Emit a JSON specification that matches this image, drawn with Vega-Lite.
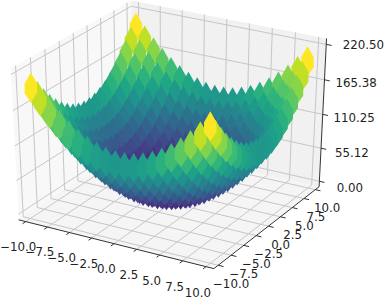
{"$schema":"https://vega.github.io/schema/vega-lite/v6.json","width":384,"height":300,"padding":0,"autosize":{"type":"fit","contains":"padding"},"background":"white","view":{"stroke":null},
"datasets":{
"surface":[
{"x":-9.5,"y":9.5,"z":220.5},{"x":-8.5,"y":9.5,"z":202.5},{"x":-7.5,"y":9.5,"z":186.5},{"x":-6.5,"y":9.5,"z":172.5},{"x":-5.5,"y":9.5,"z":160.5},{"x":-4.5,"y":9.5,"z":150.5},{"x":-3.5,"y":9.5,"z":142.5},{"x":-2.5,"y":9.5,"z":136.5},{"x":-1.5,"y":9.5,"z":132.5},{"x":-0.5,"y":9.5,"z":130.5},{"x":0.5,"y":9.5,"z":130.5},{"x":1.5,"y":9.5,"z":132.5},{"x":2.5,"y":9.5,"z":136.5},{"x":3.5,"y":9.5,"z":142.5},{"x":4.5,"y":9.5,"z":150.5},{"x":5.5,"y":9.5,"z":160.5},{"x":6.5,"y":9.5,"z":172.5},{"x":7.5,"y":9.5,"z":186.5},{"x":8.5,"y":9.5,"z":202.5},{"x":9.5,"y":9.5,"z":220.5},
{"x":-9.5,"y":8.5,"z":202.5},{"x":-8.5,"y":8.5,"z":184.5},{"x":-7.5,"y":8.5,"z":168.5},{"x":-6.5,"y":8.5,"z":154.5},{"x":-5.5,"y":8.5,"z":142.5},{"x":-4.5,"y":8.5,"z":132.5},{"x":-3.5,"y":8.5,"z":124.5},{"x":-2.5,"y":8.5,"z":118.5},{"x":-1.5,"y":8.5,"z":114.5},{"x":-0.5,"y":8.5,"z":112.5},{"x":0.5,"y":8.5,"z":112.5},{"x":1.5,"y":8.5,"z":114.5},{"x":2.5,"y":8.5,"z":118.5},{"x":3.5,"y":8.5,"z":124.5},{"x":4.5,"y":8.5,"z":132.5},{"x":5.5,"y":8.5,"z":142.5},{"x":6.5,"y":8.5,"z":154.5},{"x":7.5,"y":8.5,"z":168.5},{"x":8.5,"y":8.5,"z":184.5},{"x":9.5,"y":8.5,"z":202.5},
{"x":-9.5,"y":7.5,"z":186.5},{"x":-8.5,"y":7.5,"z":168.5},{"x":-7.5,"y":7.5,"z":152.5},{"x":-6.5,"y":7.5,"z":138.5},{"x":-5.5,"y":7.5,"z":126.5},{"x":-4.5,"y":7.5,"z":116.5},{"x":-3.5,"y":7.5,"z":108.5},{"x":-2.5,"y":7.5,"z":102.5},{"x":-1.5,"y":7.5,"z":98.5},{"x":-0.5,"y":7.5,"z":96.5},{"x":0.5,"y":7.5,"z":96.5},{"x":1.5,"y":7.5,"z":98.5},{"x":2.5,"y":7.5,"z":102.5},{"x":3.5,"y":7.5,"z":108.5},{"x":4.5,"y":7.5,"z":116.5},{"x":5.5,"y":7.5,"z":126.5},{"x":6.5,"y":7.5,"z":138.5},{"x":7.5,"y":7.5,"z":152.5},{"x":8.5,"y":7.5,"z":168.5},{"x":9.5,"y":7.5,"z":186.5},
{"x":-9.5,"y":6.5,"z":172.5},{"x":-8.5,"y":6.5,"z":154.5},{"x":-7.5,"y":6.5,"z":138.5},{"x":-6.5,"y":6.5,"z":124.5},{"x":-5.5,"y":6.5,"z":112.5},{"x":-4.5,"y":6.5,"z":102.5},{"x":-3.5,"y":6.5,"z":94.5},{"x":-2.5,"y":6.5,"z":88.5},{"x":-1.5,"y":6.5,"z":84.5},{"x":-0.5,"y":6.5,"z":82.5},{"x":0.5,"y":6.5,"z":82.5},{"x":1.5,"y":6.5,"z":84.5},{"x":2.5,"y":6.5,"z":88.5},{"x":3.5,"y":6.5,"z":94.5},{"x":4.5,"y":6.5,"z":102.5},{"x":5.5,"y":6.5,"z":112.5},{"x":6.5,"y":6.5,"z":124.5},{"x":7.5,"y":6.5,"z":138.5},{"x":8.5,"y":6.5,"z":154.5},{"x":9.5,"y":6.5,"z":172.5},
{"x":-9.5,"y":5.5,"z":160.5},{"x":-8.5,"y":5.5,"z":142.5},{"x":-7.5,"y":5.5,"z":126.5},{"x":-6.5,"y":5.5,"z":112.5},{"x":-5.5,"y":5.5,"z":100.5},{"x":-4.5,"y":5.5,"z":90.5},{"x":-3.5,"y":5.5,"z":82.5},{"x":-2.5,"y":5.5,"z":76.5},{"x":-1.5,"y":5.5,"z":72.5},{"x":-0.5,"y":5.5,"z":70.5},{"x":0.5,"y":5.5,"z":70.5},{"x":1.5,"y":5.5,"z":72.5},{"x":2.5,"y":5.5,"z":76.5},{"x":3.5,"y":5.5,"z":82.5},{"x":4.5,"y":5.5,"z":90.5},{"x":5.5,"y":5.5,"z":100.5},{"x":6.5,"y":5.5,"z":112.5},{"x":7.5,"y":5.5,"z":126.5},{"x":8.5,"y":5.5,"z":142.5},{"x":9.5,"y":5.5,"z":160.5},
{"x":-9.5,"y":4.5,"z":150.5},{"x":-8.5,"y":4.5,"z":132.5},{"x":-7.5,"y":4.5,"z":116.5},{"x":-6.5,"y":4.5,"z":102.5},{"x":-5.5,"y":4.5,"z":90.5},{"x":-4.5,"y":4.5,"z":80.5},{"x":-3.5,"y":4.5,"z":72.5},{"x":-2.5,"y":4.5,"z":66.5},{"x":-1.5,"y":4.5,"z":62.5},{"x":-0.5,"y":4.5,"z":60.5},{"x":0.5,"y":4.5,"z":60.5},{"x":1.5,"y":4.5,"z":62.5},{"x":2.5,"y":4.5,"z":66.5},{"x":3.5,"y":4.5,"z":72.5},{"x":4.5,"y":4.5,"z":80.5},{"x":5.5,"y":4.5,"z":90.5},{"x":6.5,"y":4.5,"z":102.5},{"x":7.5,"y":4.5,"z":116.5},{"x":8.5,"y":4.5,"z":132.5},{"x":9.5,"y":4.5,"z":150.5},
{"x":-9.5,"y":3.5,"z":142.5},{"x":-8.5,"y":3.5,"z":124.5},{"x":-7.5,"y":3.5,"z":108.5},{"x":-6.5,"y":3.5,"z":94.5},{"x":-5.5,"y":3.5,"z":82.5},{"x":-4.5,"y":3.5,"z":72.5},{"x":-3.5,"y":3.5,"z":64.5},{"x":-2.5,"y":3.5,"z":58.5},{"x":-1.5,"y":3.5,"z":54.5},{"x":-0.5,"y":3.5,"z":52.5},{"x":0.5,"y":3.5,"z":52.5},{"x":1.5,"y":3.5,"z":54.5},{"x":2.5,"y":3.5,"z":58.5},{"x":3.5,"y":3.5,"z":64.5},{"x":4.5,"y":3.5,"z":72.5},{"x":5.5,"y":3.5,"z":82.5},{"x":6.5,"y":3.5,"z":94.5},{"x":7.5,"y":3.5,"z":108.5},{"x":8.5,"y":3.5,"z":124.5},{"x":9.5,"y":3.5,"z":142.5},
{"x":-9.5,"y":2.5,"z":136.5},{"x":-8.5,"y":2.5,"z":118.5},{"x":-7.5,"y":2.5,"z":102.5},{"x":-6.5,"y":2.5,"z":88.5},{"x":-5.5,"y":2.5,"z":76.5},{"x":-4.5,"y":2.5,"z":66.5},{"x":-3.5,"y":2.5,"z":58.5},{"x":-2.5,"y":2.5,"z":52.5},{"x":-1.5,"y":2.5,"z":48.5},{"x":-0.5,"y":2.5,"z":46.5},{"x":0.5,"y":2.5,"z":46.5},{"x":1.5,"y":2.5,"z":48.5},{"x":2.5,"y":2.5,"z":52.5},{"x":3.5,"y":2.5,"z":58.5},{"x":4.5,"y":2.5,"z":66.5},{"x":5.5,"y":2.5,"z":76.5},{"x":6.5,"y":2.5,"z":88.5},{"x":7.5,"y":2.5,"z":102.5},{"x":8.5,"y":2.5,"z":118.5},{"x":9.5,"y":2.5,"z":136.5},
{"x":-9.5,"y":1.5,"z":132.5},{"x":-8.5,"y":1.5,"z":114.5},{"x":-7.5,"y":1.5,"z":98.5},{"x":-6.5,"y":1.5,"z":84.5},{"x":-5.5,"y":1.5,"z":72.5},{"x":-4.5,"y":1.5,"z":62.5},{"x":-3.5,"y":1.5,"z":54.5},{"x":-2.5,"y":1.5,"z":48.5},{"x":-1.5,"y":1.5,"z":44.5},{"x":-0.5,"y":1.5,"z":42.5},{"x":0.5,"y":1.5,"z":42.5},{"x":1.5,"y":1.5,"z":44.5},{"x":2.5,"y":1.5,"z":48.5},{"x":3.5,"y":1.5,"z":54.5},{"x":4.5,"y":1.5,"z":62.5},{"x":5.5,"y":1.5,"z":72.5},{"x":6.5,"y":1.5,"z":84.5},{"x":7.5,"y":1.5,"z":98.5},{"x":8.5,"y":1.5,"z":114.5},{"x":9.5,"y":1.5,"z":132.5},
{"x":-9.5,"y":0.5,"z":130.5},{"x":-8.5,"y":0.5,"z":112.5},{"x":-7.5,"y":0.5,"z":96.5},{"x":-6.5,"y":0.5,"z":82.5},{"x":-5.5,"y":0.5,"z":70.5},{"x":-4.5,"y":0.5,"z":60.5},{"x":-3.5,"y":0.5,"z":52.5},{"x":-2.5,"y":0.5,"z":46.5},{"x":-1.5,"y":0.5,"z":42.5},{"x":-0.5,"y":0.5,"z":40.5},{"x":0.5,"y":0.5,"z":40.5},{"x":1.5,"y":0.5,"z":42.5},{"x":2.5,"y":0.5,"z":46.5},{"x":3.5,"y":0.5,"z":52.5},{"x":4.5,"y":0.5,"z":60.5},{"x":5.5,"y":0.5,"z":70.5},{"x":6.5,"y":0.5,"z":82.5},{"x":7.5,"y":0.5,"z":96.5},{"x":8.5,"y":0.5,"z":112.5},{"x":9.5,"y":0.5,"z":130.5},
{"x":-9.5,"y":-0.5,"z":130.5},{"x":-8.5,"y":-0.5,"z":112.5},{"x":-7.5,"y":-0.5,"z":96.5},{"x":-6.5,"y":-0.5,"z":82.5},{"x":-5.5,"y":-0.5,"z":70.5},{"x":-4.5,"y":-0.5,"z":60.5},{"x":-3.5,"y":-0.5,"z":52.5},{"x":-2.5,"y":-0.5,"z":46.5},{"x":-1.5,"y":-0.5,"z":42.5},{"x":-0.5,"y":-0.5,"z":40.5},{"x":0.5,"y":-0.5,"z":40.5},{"x":1.5,"y":-0.5,"z":42.5},{"x":2.5,"y":-0.5,"z":46.5},{"x":3.5,"y":-0.5,"z":52.5},{"x":4.5,"y":-0.5,"z":60.5},{"x":5.5,"y":-0.5,"z":70.5},{"x":6.5,"y":-0.5,"z":82.5},{"x":7.5,"y":-0.5,"z":96.5},{"x":8.5,"y":-0.5,"z":112.5},{"x":9.5,"y":-0.5,"z":130.5},
{"x":-9.5,"y":-1.5,"z":132.5},{"x":-8.5,"y":-1.5,"z":114.5},{"x":-7.5,"y":-1.5,"z":98.5},{"x":-6.5,"y":-1.5,"z":84.5},{"x":-5.5,"y":-1.5,"z":72.5},{"x":-4.5,"y":-1.5,"z":62.5},{"x":-3.5,"y":-1.5,"z":54.5},{"x":-2.5,"y":-1.5,"z":48.5},{"x":-1.5,"y":-1.5,"z":44.5},{"x":-0.5,"y":-1.5,"z":42.5},{"x":0.5,"y":-1.5,"z":42.5},{"x":1.5,"y":-1.5,"z":44.5},{"x":2.5,"y":-1.5,"z":48.5},{"x":3.5,"y":-1.5,"z":54.5},{"x":4.5,"y":-1.5,"z":62.5},{"x":5.5,"y":-1.5,"z":72.5},{"x":6.5,"y":-1.5,"z":84.5},{"x":7.5,"y":-1.5,"z":98.5},{"x":8.5,"y":-1.5,"z":114.5},{"x":9.5,"y":-1.5,"z":132.5},
{"x":-9.5,"y":-2.5,"z":136.5},{"x":-8.5,"y":-2.5,"z":118.5},{"x":-7.5,"y":-2.5,"z":102.5},{"x":-6.5,"y":-2.5,"z":88.5},{"x":-5.5,"y":-2.5,"z":76.5},{"x":-4.5,"y":-2.5,"z":66.5},{"x":-3.5,"y":-2.5,"z":58.5},{"x":-2.5,"y":-2.5,"z":52.5},{"x":-1.5,"y":-2.5,"z":48.5},{"x":-0.5,"y":-2.5,"z":46.5},{"x":0.5,"y":-2.5,"z":46.5},{"x":1.5,"y":-2.5,"z":48.5},{"x":2.5,"y":-2.5,"z":52.5},{"x":3.5,"y":-2.5,"z":58.5},{"x":4.5,"y":-2.5,"z":66.5},{"x":5.5,"y":-2.5,"z":76.5},{"x":6.5,"y":-2.5,"z":88.5},{"x":7.5,"y":-2.5,"z":102.5},{"x":8.5,"y":-2.5,"z":118.5},{"x":9.5,"y":-2.5,"z":136.5},
{"x":-9.5,"y":-3.5,"z":142.5},{"x":-8.5,"y":-3.5,"z":124.5},{"x":-7.5,"y":-3.5,"z":108.5},{"x":-6.5,"y":-3.5,"z":94.5},{"x":-5.5,"y":-3.5,"z":82.5},{"x":-4.5,"y":-3.5,"z":72.5},{"x":-3.5,"y":-3.5,"z":64.5},{"x":-2.5,"y":-3.5,"z":58.5},{"x":-1.5,"y":-3.5,"z":54.5},{"x":-0.5,"y":-3.5,"z":52.5},{"x":0.5,"y":-3.5,"z":52.5},{"x":1.5,"y":-3.5,"z":54.5},{"x":2.5,"y":-3.5,"z":58.5},{"x":3.5,"y":-3.5,"z":64.5},{"x":4.5,"y":-3.5,"z":72.5},{"x":5.5,"y":-3.5,"z":82.5},{"x":6.5,"y":-3.5,"z":94.5},{"x":7.5,"y":-3.5,"z":108.5},{"x":8.5,"y":-3.5,"z":124.5},{"x":9.5,"y":-3.5,"z":142.5},
{"x":-9.5,"y":-4.5,"z":150.5},{"x":-8.5,"y":-4.5,"z":132.5},{"x":-7.5,"y":-4.5,"z":116.5},{"x":-6.5,"y":-4.5,"z":102.5},{"x":-5.5,"y":-4.5,"z":90.5},{"x":-4.5,"y":-4.5,"z":80.5},{"x":-3.5,"y":-4.5,"z":72.5},{"x":-2.5,"y":-4.5,"z":66.5},{"x":-1.5,"y":-4.5,"z":62.5},{"x":-0.5,"y":-4.5,"z":60.5},{"x":0.5,"y":-4.5,"z":60.5},{"x":1.5,"y":-4.5,"z":62.5},{"x":2.5,"y":-4.5,"z":66.5},{"x":3.5,"y":-4.5,"z":72.5},{"x":4.5,"y":-4.5,"z":80.5},{"x":5.5,"y":-4.5,"z":90.5},{"x":6.5,"y":-4.5,"z":102.5},{"x":7.5,"y":-4.5,"z":116.5},{"x":8.5,"y":-4.5,"z":132.5},{"x":9.5,"y":-4.5,"z":150.5},
{"x":-9.5,"y":-5.5,"z":160.5},{"x":-8.5,"y":-5.5,"z":142.5},{"x":-7.5,"y":-5.5,"z":126.5},{"x":-6.5,"y":-5.5,"z":112.5},{"x":-5.5,"y":-5.5,"z":100.5},{"x":-4.5,"y":-5.5,"z":90.5},{"x":-3.5,"y":-5.5,"z":82.5},{"x":-2.5,"y":-5.5,"z":76.5},{"x":-1.5,"y":-5.5,"z":72.5},{"x":-0.5,"y":-5.5,"z":70.5},{"x":0.5,"y":-5.5,"z":70.5},{"x":1.5,"y":-5.5,"z":72.5},{"x":2.5,"y":-5.5,"z":76.5},{"x":3.5,"y":-5.5,"z":82.5},{"x":4.5,"y":-5.5,"z":90.5},{"x":5.5,"y":-5.5,"z":100.5},{"x":6.5,"y":-5.5,"z":112.5},{"x":7.5,"y":-5.5,"z":126.5},{"x":8.5,"y":-5.5,"z":142.5},{"x":9.5,"y":-5.5,"z":160.5},
{"x":-9.5,"y":-6.5,"z":172.5},{"x":-8.5,"y":-6.5,"z":154.5},{"x":-7.5,"y":-6.5,"z":138.5},{"x":-6.5,"y":-6.5,"z":124.5},{"x":-5.5,"y":-6.5,"z":112.5},{"x":-4.5,"y":-6.5,"z":102.5},{"x":-3.5,"y":-6.5,"z":94.5},{"x":-2.5,"y":-6.5,"z":88.5},{"x":-1.5,"y":-6.5,"z":84.5},{"x":-0.5,"y":-6.5,"z":82.5},{"x":0.5,"y":-6.5,"z":82.5},{"x":1.5,"y":-6.5,"z":84.5},{"x":2.5,"y":-6.5,"z":88.5},{"x":3.5,"y":-6.5,"z":94.5},{"x":4.5,"y":-6.5,"z":102.5},{"x":5.5,"y":-6.5,"z":112.5},{"x":6.5,"y":-6.5,"z":124.5},{"x":7.5,"y":-6.5,"z":138.5},{"x":8.5,"y":-6.5,"z":154.5},{"x":9.5,"y":-6.5,"z":172.5},
{"x":-9.5,"y":-7.5,"z":186.5},{"x":-8.5,"y":-7.5,"z":168.5},{"x":-7.5,"y":-7.5,"z":152.5},{"x":-6.5,"y":-7.5,"z":138.5},{"x":-5.5,"y":-7.5,"z":126.5},{"x":-4.5,"y":-7.5,"z":116.5},{"x":-3.5,"y":-7.5,"z":108.5},{"x":-2.5,"y":-7.5,"z":102.5},{"x":-1.5,"y":-7.5,"z":98.5},{"x":-0.5,"y":-7.5,"z":96.5},{"x":0.5,"y":-7.5,"z":96.5},{"x":1.5,"y":-7.5,"z":98.5},{"x":2.5,"y":-7.5,"z":102.5},{"x":3.5,"y":-7.5,"z":108.5},{"x":4.5,"y":-7.5,"z":116.5},{"x":5.5,"y":-7.5,"z":126.5},{"x":6.5,"y":-7.5,"z":138.5},{"x":7.5,"y":-7.5,"z":152.5},{"x":8.5,"y":-7.5,"z":168.5},{"x":9.5,"y":-7.5,"z":186.5},
{"x":-9.5,"y":-8.5,"z":202.5},{"x":-8.5,"y":-8.5,"z":184.5},{"x":-7.5,"y":-8.5,"z":168.5},{"x":-6.5,"y":-8.5,"z":154.5},{"x":-5.5,"y":-8.5,"z":142.5},{"x":-4.5,"y":-8.5,"z":132.5},{"x":-3.5,"y":-8.5,"z":124.5},{"x":-2.5,"y":-8.5,"z":118.5},{"x":-1.5,"y":-8.5,"z":114.5},{"x":-0.5,"y":-8.5,"z":112.5},{"x":0.5,"y":-8.5,"z":112.5},{"x":1.5,"y":-8.5,"z":114.5},{"x":2.5,"y":-8.5,"z":118.5},{"x":3.5,"y":-8.5,"z":124.5},{"x":4.5,"y":-8.5,"z":132.5},{"x":5.5,"y":-8.5,"z":142.5},{"x":6.5,"y":-8.5,"z":154.5},{"x":7.5,"y":-8.5,"z":168.5},{"x":8.5,"y":-8.5,"z":184.5},{"x":9.5,"y":-8.5,"z":202.5},
{"x":-9.5,"y":-9.5,"z":220.5},{"x":-8.5,"y":-9.5,"z":202.5},{"x":-7.5,"y":-9.5,"z":186.5},{"x":-6.5,"y":-9.5,"z":172.5},{"x":-5.5,"y":-9.5,"z":160.5},{"x":-4.5,"y":-9.5,"z":150.5},{"x":-3.5,"y":-9.5,"z":142.5},{"x":-2.5,"y":-9.5,"z":136.5},{"x":-1.5,"y":-9.5,"z":132.5},{"x":-0.5,"y":-9.5,"z":130.5},{"x":0.5,"y":-9.5,"z":130.5},{"x":1.5,"y":-9.5,"z":132.5},{"x":2.5,"y":-9.5,"z":136.5},{"x":3.5,"y":-9.5,"z":142.5},{"x":4.5,"y":-9.5,"z":150.5},{"x":5.5,"y":-9.5,"z":160.5},{"x":6.5,"y":-9.5,"z":172.5},{"x":7.5,"y":-9.5,"z":186.5},{"x":8.5,"y":-9.5,"z":202.5},{"x":9.5,"y":-9.5,"z":220.5}
],
"panes":[
{"pane":"left","x":-10.83,"y":-10.83,"z":229.69,"x2":-10.83,"y2":-10.83,"z2":229.69},
{"pane":"left","x":-10.83,"y":-9.42,"z":229.69,"x2":-10.83,"y2":-10.83,"z2":-9.19},
{"pane":"left","x":-10.83,"y":10.83,"z":229.69,"x2":-10.83,"y2":10.55,"z2":-9.19},
{"pane":"back","x":-10.83,"y":10.83,"z":229.69,"x2":-10.83,"y2":10.83,"z2":-9.19},
{"pane":"back","x":10,"y":10.83,"z":229.69,"x2":10.83,"y2":10.83,"z2":-9.19},
{"pane":"back","x":10.83,"y":10.83,"z":229.69,"x2":10.83,"y2":10.83,"z2":229.69},
{"pane":"floor","x":-10.83,"y":-10.83,"z":-9.19,"x2":-10.83,"y2":-10.83,"z2":-9.19},
{"pane":"floor","x":-10.83,"y":10.83,"z":-9.19,"x2":1.89,"y2":-10.83,"z2":-9.19},
{"pane":"floor","x":-1.45,"y":10.83,"z":-9.19,"x2":10.83,"y2":-10.83,"z2":-9.19},
{"pane":"floor","x":10.83,"y":10.83,"z":-9.19,"x2":10.83,"y2":10.83,"z2":-9.19}
],
"grid":[
{"x":-10,"y":-10.83,"z":-9.19,"x2":-10,"y2":10.83,"z2":-9.19},{"x":-7.5,"y":-10.83,"z":-9.19,"x2":-7.5,"y2":10.83,"z2":-9.19},{"x":-5,"y":-10.83,"z":-9.19,"x2":-5,"y2":10.83,"z2":-9.19},{"x":-2.5,"y":-10.83,"z":-9.19,"x2":-2.5,"y2":10.83,"z2":-9.19},{"x":0,"y":-10.83,"z":-9.19,"x2":0,"y2":10.83,"z2":-9.19},{"x":2.5,"y":-10.83,"z":-9.19,"x2":2.5,"y2":10.83,"z2":-9.19},{"x":5,"y":-10.83,"z":-9.19,"x2":5,"y2":10.83,"z2":-9.19},{"x":7.5,"y":-10.83,"z":-9.19,"x2":7.5,"y2":10.83,"z2":-9.19},{"x":10,"y":-10.83,"z":-9.19,"x2":10,"y2":10.83,"z2":-9.19},
{"x":-10.83,"y":-10,"z":-9.19,"x2":10.83,"y2":-10,"z2":-9.19},{"x":-10.83,"y":-7.5,"z":-9.19,"x2":10.83,"y2":-7.5,"z2":-9.19},{"x":-10.83,"y":-5,"z":-9.19,"x2":10.83,"y2":-5,"z2":-9.19},{"x":-10.83,"y":-2.5,"z":-9.19,"x2":10.83,"y2":-2.5,"z2":-9.19},{"x":-10.83,"y":0,"z":-9.19,"x2":10.83,"y2":0,"z2":-9.19},{"x":-10.83,"y":2.5,"z":-9.19,"x2":10.83,"y2":2.5,"z2":-9.19},{"x":-10.83,"y":5,"z":-9.19,"x2":10.83,"y2":5,"z2":-9.19},{"x":-10.83,"y":7.5,"z":-9.19,"x2":10.83,"y2":7.5,"z2":-9.19},{"x":-10.83,"y":10,"z":-9.19,"x2":10.83,"y2":10,"z2":-9.19},
{"x":-10.83,"y":-10,"z":-9.19,"x2":-10.83,"y2":-10,"z2":229.69},{"x":-10.83,"y":-7.5,"z":-9.19,"x2":-10.83,"y2":-7.5,"z2":229.69},{"x":-10.83,"y":-5,"z":-9.19,"x2":-10.83,"y2":-5,"z2":229.69},{"x":-10.83,"y":-2.5,"z":-9.19,"x2":-10.83,"y2":-2.5,"z2":229.69},{"x":-10.83,"y":0,"z":-9.19,"x2":-10.83,"y2":0,"z2":229.69},{"x":-10.83,"y":2.5,"z":-9.19,"x2":-10.83,"y2":2.5,"z2":229.69},{"x":-10.83,"y":5,"z":-9.19,"x2":-10.83,"y2":5,"z2":229.69},{"x":-10.83,"y":7.5,"z":-9.19,"x2":-10.83,"y2":7.5,"z2":229.69},{"x":-10.83,"y":10,"z":-9.19,"x2":-10.83,"y2":10,"z2":229.69},
{"x":-10,"y":10.83,"z":-9.19,"x2":-10,"y2":10.83,"z2":229.69},{"x":-7.5,"y":10.83,"z":-9.19,"x2":-7.5,"y2":10.83,"z2":229.69},{"x":-5,"y":10.83,"z":-9.19,"x2":-5,"y2":10.83,"z2":229.69},{"x":-2.5,"y":10.83,"z":-9.19,"x2":-2.5,"y2":10.83,"z2":229.69},{"x":0,"y":10.83,"z":-9.19,"x2":0,"y2":10.83,"z2":229.69},{"x":2.5,"y":10.83,"z":-9.19,"x2":2.5,"y2":10.83,"z2":229.69},{"x":5,"y":10.83,"z":-9.19,"x2":5,"y2":10.83,"z2":229.69},{"x":7.5,"y":10.83,"z":-9.19,"x2":7.5,"y2":10.83,"z2":229.69},{"x":10,"y":10.83,"z":-9.19,"x2":10,"y2":10.83,"z2":229.69},
{"x":-10.83,"y":-10.83,"z":0,"x2":-10.83,"y2":10.83,"z2":0},{"x":-10.83,"y":-10.83,"z":55.12,"x2":-10.83,"y2":10.83,"z2":55.12},{"x":-10.83,"y":-10.83,"z":110.25,"x2":-10.83,"y2":10.83,"z2":110.25},{"x":-10.83,"y":-10.83,"z":165.38,"x2":-10.83,"y2":10.83,"z2":165.38},{"x":-10.83,"y":-10.83,"z":220.5,"x2":-10.83,"y2":10.83,"z2":220.5},
{"x":-10.83,"y":10.83,"z":0,"x2":10.83,"y2":10.83,"z2":0},{"x":-10.83,"y":10.83,"z":55.12,"x2":10.83,"y2":10.83,"z2":55.12},{"x":-10.83,"y":10.83,"z":110.25,"x2":10.83,"y2":10.83,"z2":110.25},{"x":-10.83,"y":10.83,"z":165.38,"x2":10.83,"y2":10.83,"z2":165.38},{"x":-10.83,"y":10.83,"z":220.5,"x2":10.83,"y2":10.83,"z2":220.5}
],
"axes":[
{"x":-10.83,"y":-10.83,"z":-9.19,"x2":10.83,"y2":-10.83,"z2":-9.19},{"x":10.83,"y":-10.83,"z":-9.19,"x2":10.83,"y2":10.83,"z2":-9.19},{"x":10.83,"y":10.83,"z":-9.19,"x2":10.83,"y2":10.83,"z2":229.69},
{"x":-10,"y":-10.83,"z":-9.19,"x2":-10,"y2":-11.4,"z2":-9.19},{"x":-7.5,"y":-10.83,"z":-9.19,"x2":-7.5,"y2":-11.4,"z2":-9.19},{"x":-5,"y":-10.83,"z":-9.19,"x2":-5,"y2":-11.4,"z2":-9.19},{"x":-2.5,"y":-10.83,"z":-9.19,"x2":-2.5,"y2":-11.4,"z2":-9.19},{"x":0,"y":-10.83,"z":-9.19,"x2":0,"y2":-11.4,"z2":-9.19},{"x":2.5,"y":-10.83,"z":-9.19,"x2":2.5,"y2":-11.4,"z2":-9.19},{"x":5,"y":-10.83,"z":-9.19,"x2":5,"y2":-11.4,"z2":-9.19},{"x":7.5,"y":-10.83,"z":-9.19,"x2":7.5,"y2":-11.4,"z2":-9.19},{"x":10,"y":-10.83,"z":-9.19,"x2":10,"y2":-11.4,"z2":-9.19},
{"x":10.83,"y":-10,"z":-9.19,"x2":11.4,"y2":-10,"z2":-9.19},{"x":10.83,"y":-7.5,"z":-9.19,"x2":11.4,"y2":-7.5,"z2":-9.19},{"x":10.83,"y":-5,"z":-9.19,"x2":11.4,"y2":-5,"z2":-9.19},{"x":10.83,"y":-2.5,"z":-9.19,"x2":11.4,"y2":-2.5,"z2":-9.19},{"x":10.83,"y":0,"z":-9.19,"x2":11.4,"y2":0,"z2":-9.19},{"x":10.83,"y":2.5,"z":-9.19,"x2":11.4,"y2":2.5,"z2":-9.19},{"x":10.83,"y":5,"z":-9.19,"x2":11.4,"y2":5,"z2":-9.19},{"x":10.83,"y":7.5,"z":-9.19,"x2":11.4,"y2":7.5,"z2":-9.19},{"x":10.83,"y":10,"z":-9.19,"x2":11.4,"y2":10,"z2":-9.19},
{"x":10.83,"y":10.83,"z":0,"x2":11.4,"y2":10.83,"z2":0},{"x":10.83,"y":10.83,"z":55.12,"x2":11.4,"y2":10.83,"z2":55.12},{"x":10.83,"y":10.83,"z":110.25,"x2":11.4,"y2":10.83,"z2":110.25},{"x":10.83,"y":10.83,"z":165.38,"x2":11.4,"y2":10.83,"z2":165.38},{"x":10.83,"y":10.83,"z":220.5,"x2":11.4,"y2":10.83,"z2":220.5}
],
"labels":[
{"axis":"x","t":"−10.0","x":-10,"y":-12.33,"z":-41.5},{"axis":"x","t":"−7.5","x":-7.5,"y":-12.33,"z":-41.5},{"axis":"x","t":"−5.0","x":-5,"y":-12.33,"z":-41.5},{"axis":"x","t":"−2.5","x":-2.5,"y":-12.33,"z":-41.5},{"axis":"x","t":"0.0","x":0,"y":-12.33,"z":-41.5},{"axis":"x","t":"2.5","x":2.5,"y":-12.33,"z":-41.5},{"axis":"x","t":"5.0","x":5,"y":-12.33,"z":-41.5},{"axis":"x","t":"7.5","x":7.5,"y":-12.33,"z":-41.5},{"axis":"x","t":"10.0","x":10,"y":-12.33,"z":-41.5},
{"axis":"y","t":"−10.0","x":12.23,"y":-10,"z":-35},{"axis":"y","t":"−7.5","x":12.23,"y":-7.5,"z":-35},{"axis":"y","t":"−5.0","x":12.23,"y":-5,"z":-35},{"axis":"y","t":"−2.5","x":12.23,"y":-2.5,"z":-35},{"axis":"y","t":"0.0","x":12.23,"y":0,"z":-35},{"axis":"y","t":"2.5","x":12.23,"y":2.5,"z":-35},{"axis":"y","t":"5.0","x":12.23,"y":5,"z":-35},{"axis":"y","t":"7.5","x":12.23,"y":7.5,"z":-35},{"axis":"y","t":"10.0","x":12.23,"y":10,"z":-35},
{"axis":"z","t":"0.00","x":14.2,"y":10.83,"z":0},{"axis":"z","t":"55.12","x":14.2,"y":10.83,"z":59},{"axis":"z","t":"110.25","x":14.2,"y":10.83,"z":115},{"axis":"z","t":"165.38","x":14.2,"y":10.83,"z":171},{"axis":"z","t":"220.50","x":14.7,"y":10.83,"z":231}
]
},
"encoding":{
"x":{"field":"px","type":"quantitative","scale":{"domain":[0,384],"nice":false,"zero":false},"axis":null},
"y":{"field":"py","type":"quantitative","scale":{"domain":[300,0],"nice":false,"zero":false},"axis":null}
},
"layer":[
{"data":{"name":"panes"},
"transform":[
{"calculate":"10-(0.01998*datum.x-0.03461*datum.y+0.002093*(datum.z-110.25))","as":"d"},
{"calculate":"172+2393*(0.03996*datum.x+0.02307*datum.y)/datum.d","as":"px"},
{"calculate":"131-1771*(-0.01154*datum.x+0.01998*datum.y+0.003625*(datum.z-110.25))/datum.d","as":"py"},
{"calculate":"10-(0.01998*datum.x2-0.03461*datum.y2+0.002093*(datum.z2-110.25))","as":"d2"},
{"calculate":"131-1771*(-0.01154*datum.x2+0.01998*datum.y2+0.003625*(datum.z2-110.25))/datum.d2","as":"py2"}],
"mark":{"type":"area","interpolate":"linear"},
"encoding":{"y2":{"field":"py2"},"color":{"field":"pane","type":"nominal","scale":{"domain":["left","back","floor"],"range":["#f8f8f8","#f1f1f1","#f5f5f5"]},"legend":null}}},
{"data":{"name":"grid"},
"transform":[
{"calculate":"10-(0.01998*datum.x-0.03461*datum.y+0.002093*(datum.z-110.25))","as":"d"},
{"calculate":"172+2393*(0.03996*datum.x+0.02307*datum.y)/datum.d","as":"px"},
{"calculate":"131-1771*(-0.01154*datum.x+0.01998*datum.y+0.003625*(datum.z-110.25))/datum.d","as":"py"},
{"calculate":"10-(0.01998*datum.x2-0.03461*datum.y2+0.002093*(datum.z2-110.25))","as":"d2"},
{"calculate":"172+2393*(0.03996*datum.x2+0.02307*datum.y2)/datum.d2","as":"px2"},
{"calculate":"131-1771*(-0.01154*datum.x2+0.01998*datum.y2+0.003625*(datum.z2-110.25))/datum.d2","as":"py2"}],
"mark":{"type":"rule","stroke":"#c6c6c6","strokeWidth":1},
"encoding":{"x2":{"field":"px2"},"y2":{"field":"py2"}}},
{"data":{"name":"axes"},
"transform":[
{"calculate":"10-(0.01998*datum.x-0.03461*datum.y+0.002093*(datum.z-110.25))","as":"d"},
{"calculate":"172+2393*(0.03996*datum.x+0.02307*datum.y)/datum.d","as":"px"},
{"calculate":"131-1771*(-0.01154*datum.x+0.01998*datum.y+0.003625*(datum.z-110.25))/datum.d","as":"py"},
{"calculate":"10-(0.01998*datum.x2-0.03461*datum.y2+0.002093*(datum.z2-110.25))","as":"d2"},
{"calculate":"172+2393*(0.03996*datum.x2+0.02307*datum.y2)/datum.d2","as":"px2"},
{"calculate":"131-1771*(-0.01154*datum.x2+0.01998*datum.y2+0.003625*(datum.z2-110.25))/datum.d2","as":"py2"}],
"mark":{"type":"rule","stroke":"#333333","strokeWidth":1},
"encoding":{"x2":{"field":"px2"},"y2":{"field":"py2"}}},
{"data":{"name":"surface"},
"transform":[
{"calculate":"10-(0.01998*datum.x-0.03461*datum.y+0.002093*(datum.z-110.25))","as":"d"},
{"calculate":"172+2393*(0.03996*datum.x+0.02307*datum.y)/datum.d","as":"px"},
{"calculate":"131-1771*(-0.01154*datum.x+0.01998*datum.y+0.003625*(datum.z-110.25))/datum.d","as":"py"}],
"mark":{"type":"point","filled":true,"opacity":1,"size":100,"shape":"M0,0L1.25,2.2L1.25,4.2L0,6L-1.25,4.2L-1.25,2.2Z"},
"encoding":{"color":{"field":"z","type":"quantitative","scale":{"scheme":"viridis","domain":[30,220.5]},"legend":null}}},
{"data":{"name":"labels"},
"transform":[
{"calculate":"10-(0.01998*datum.x-0.03461*datum.y+0.002093*(datum.z-110.25))","as":"d"},
{"calculate":"172+2393*(0.03996*datum.x+0.02307*datum.y)/datum.d","as":"px"},
{"calculate":"131-1771*(-0.01154*datum.x+0.01998*datum.y+0.003625*(datum.z-110.25))/datum.d","as":"py"}],
"mark":{"type":"text","font":"DejaVu Sans","fontSize":11.8,"align":"center","baseline":"middle","fill":"#222222"},
"encoding":{"text":{"field":"t","type":"nominal"}}}
],
"resolve":{"scale":{"color":"independent"}}}
